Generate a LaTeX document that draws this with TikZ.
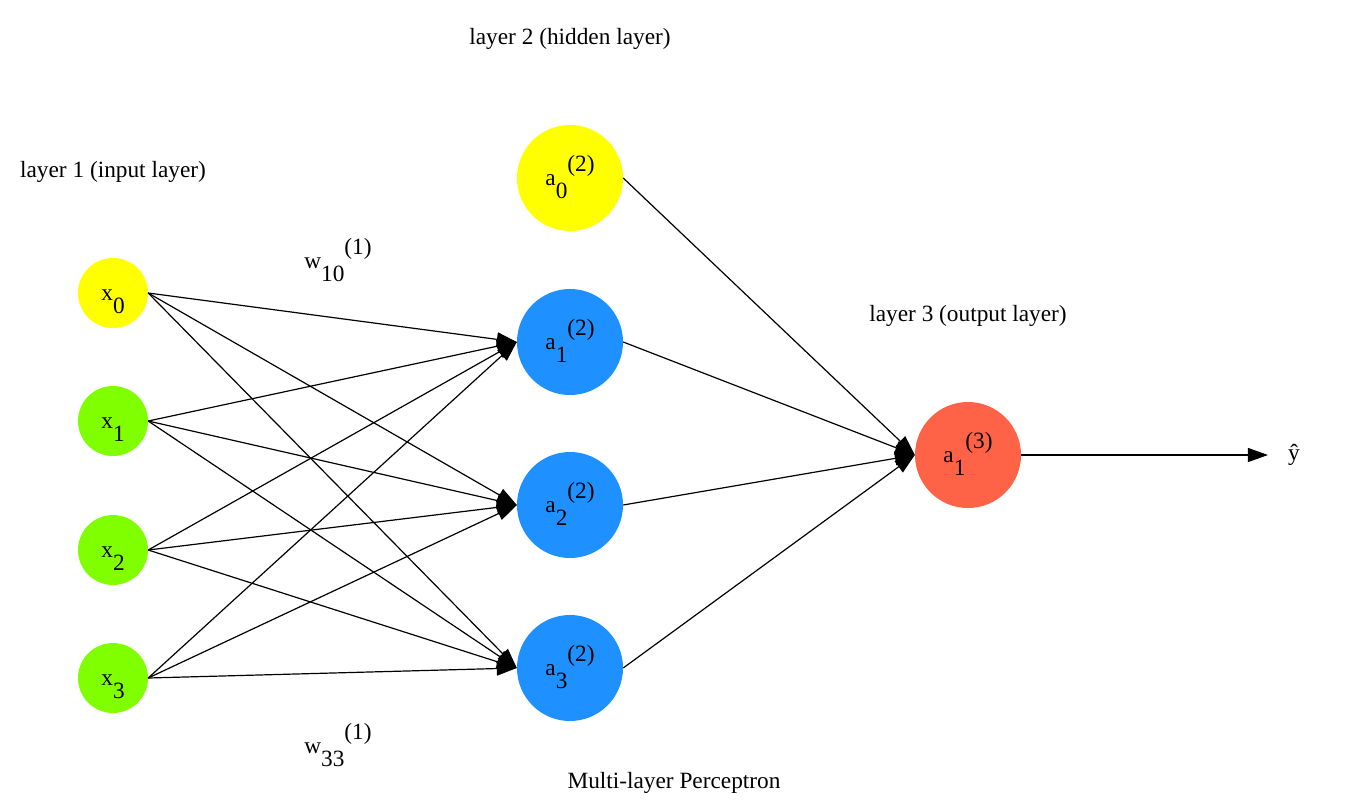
\documentclass[tikz,border=0pt]{standalone}
\usepackage{fontspec}
\setmainfont{Liberation Serif}
\usetikzlibrary{arrows.meta}
\definecolor{inyellow}{HTML}{FFFF00}
\definecolor{ingreen}{HTML}{7FFF00}
\definecolor{hidblue}{HTML}{1E90FF}
\definecolor{outred}{HTML}{FF6347}
\newcommand{\sbsp}[3]{#1\raisebox{-13pt}{#2}\raisebox{14pt}{#3}}
\newcommand{\sbonly}[2]{#1\raisebox{-13pt}{#2}}
\begin{document}
\begin{tikzpicture}[x=1pt,y=-1pt,
  font=\fontsize{23.3}{27}\selectfont,
  neuron/.style={circle, inner sep=0pt, text height=24pt, text depth=10pt},
  innode/.style={neuron, minimum size=70pt},
  bignode/.style={neuron, minimum size=106pt},
  conn/.style={line width=1.2pt, -{Triangle[length=20pt,width=14pt]}},
  txt/.style={inner sep=0pt}]
\useasboundingbox (0,0) rectangle (1348,808);

% input layer
\node[innode, fill=inyellow] (x0) at (113,293) {\sbonly{x}{0}};
\node[innode, fill=ingreen] (x1) at (113,421) {\sbonly{x}{1}};
\node[innode, fill=ingreen] (x2) at (113,550) {\sbonly{x}{2}};
\node[innode, fill=ingreen] (x3) at (113,678) {\sbonly{x}{3}};

% hidden layer
\node[bignode, fill=inyellow] (a0) at (570,178) {\sbsp{a}{0}{(2)}};
\node[bignode, fill=hidblue] (a1) at (570,342) {\sbsp{a}{1}{(2)}};
\node[bignode, fill=hidblue] (a2) at (570,505) {\sbsp{a}{2}{(2)}};
\node[bignode, fill=hidblue] (a3) at (570,668) {\sbsp{a}{3}{(2)}};

% output layer
\node[bignode, fill=outred] (out) at (968,455) {\sbsp{a}{1}{(3)}};
\node[txt] (yhat) at (1294,455) {ŷ};

% labels
\node[txt] (l1) at (113,172) {layer 1 (input layer)};
\node[txt] (l2) at (570,39) {layer 2 (hidden layer)};
\node[txt] (l3) at (968,316) {layer 3 (output layer)};
\node[txt] (title) at (674,783) {Multi-layer Perceptron};
\node[txt, anchor=base] (w10) at (338,268) {\sbsp{w}{10}{(1)}};
\node[txt, anchor=base] (w33) at (338,753) {\sbsp{w}{33}{(1)}};

% connections
\foreach \s in {x0,x1,x2,x3}{
  \foreach \d in {a1,a2,a3}{
    \draw[conn] (\s.east) -- (\d.west);
  }
}
\foreach \s in {a0,a1,a2,a3}{
  \draw[conn] (\s.east) -- (out.west);
}
\draw[conn, shorten >=20pt] (out.east) -- (yhat.west);
\end{tikzpicture}
\end{document}
